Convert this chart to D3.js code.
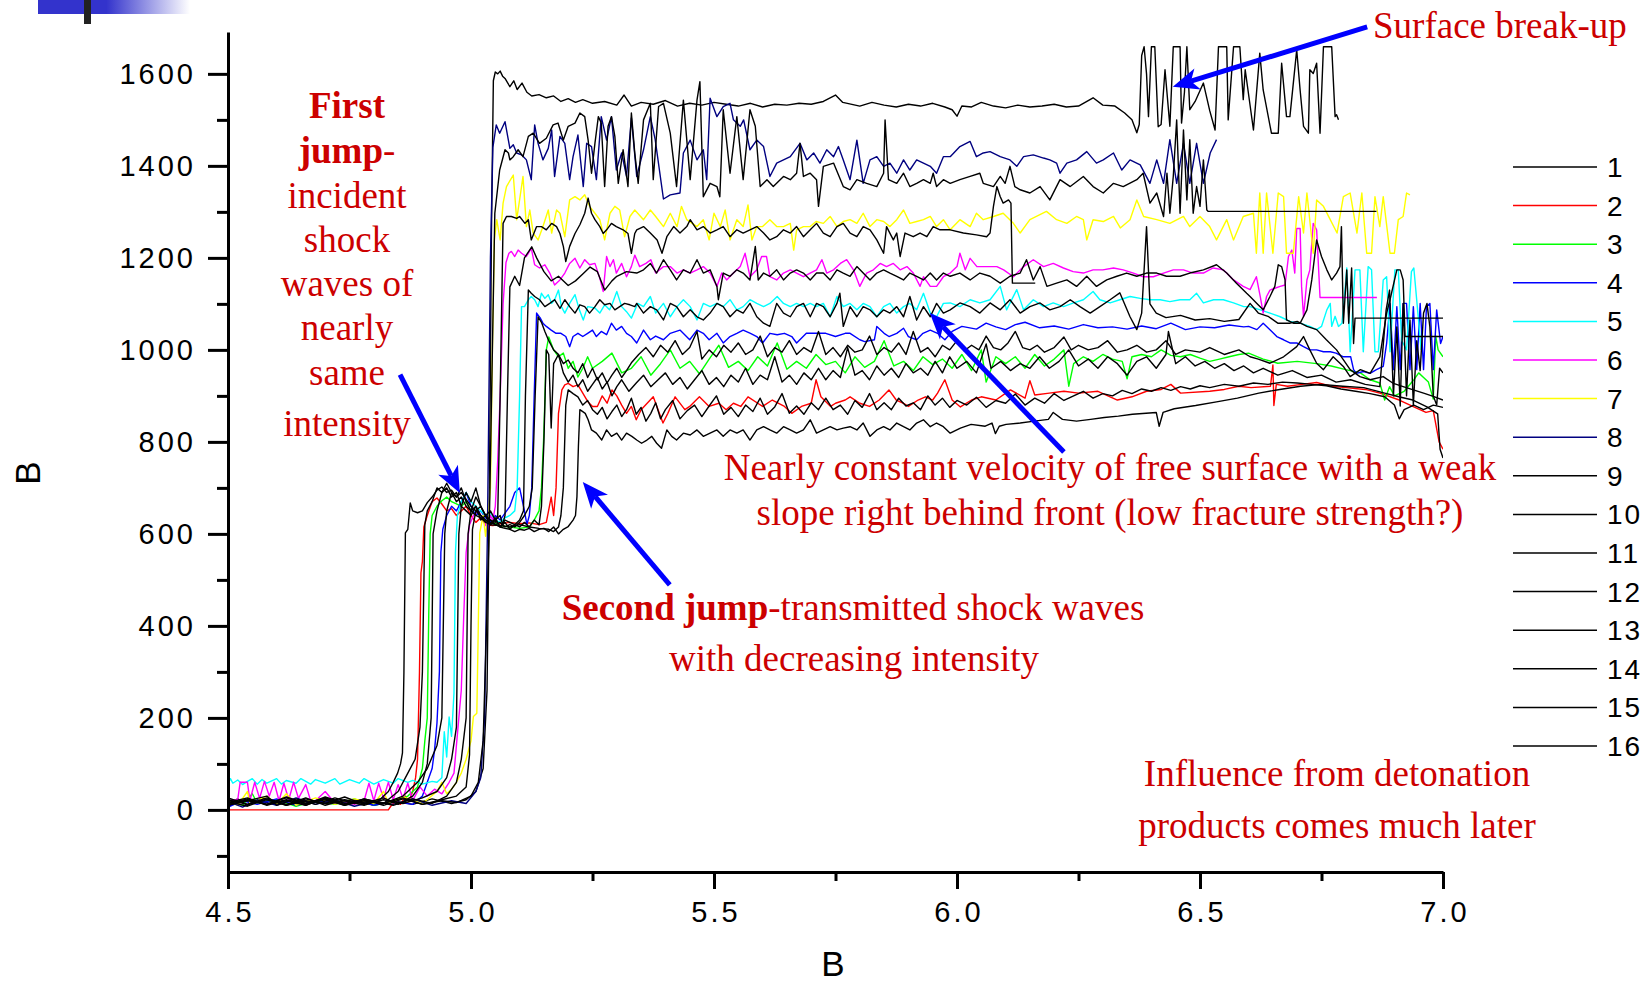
<!DOCTYPE html>
<html>
<head>
<meta charset="utf-8">
<script src="https://cdn.jsdelivr.net/npm/d3@7"></script>
<style>
  html, body { margin: 0; padding: 0; background: #fff; }
  svg { display: block; }
  .tick text { font-family: "Liberation Sans", Arial, sans-serif; }
</style>
</head>
<body>
<div id="chart"></div>
<script>
// ---- data: [x, value] pairs ----
var s1 = [[4.5,14],[4.52,24],[4.54,10],[4.57,26],[4.6,12],[4.63,22],[4.66,10],[4.7,26],[4.73,14],[4.76,22],[4.8,10],[4.84,20],[4.88,12],[4.92,24],[4.96,14],[4.99,22],[5.01,40],[5.025,90],[5.033,260],[5.038,700],[5.042,1250],[5.046,1585],[5.05,1604],[5.055,1600],[5.06,1606],[5.065,1595],[5.07,1590],[5.08,1572],[5.088,1585],[5.095,1566],[5.105,1580],[5.115,1560],[5.125,1552],[5.14,1555],[5.155,1548],[5.17,1552],[5.185,1540],[5.2,1546],[5.215,1538],[5.23,1544],[5.25,1536],[5.275,1540],[5.3,1532],[5.315,1554],[5.33,1530],[5.35,1538],[5.375,1534],[5.4,1542],[5.425,1530],[5.45,1536],[5.475,1532],[5.5,1538],[5.525,1534],[5.55,1530],[5.575,1536],[5.6,1528],[5.625,1534],[5.65,1532],[5.675,1536],[5.7,1534],[5.725,1540],[5.75,1554],[5.765,1538],[5.8,1530],[5.825,1538],[5.85,1532],[5.875,1528],[5.9,1534],[5.925,1530],[5.95,1536],[5.975,1528],[5.99,1522],[6.0,1508],[6.01,1530],[6.03,1528],[6.05,1538],[6.075,1530],[6.1,1526],[6.125,1532],[6.15,1528],[6.175,1530],[6.2,1534],[6.225,1528],[6.25,1530],[6.28,1548],[6.3,1532],[6.325,1530],[6.345,1515],[6.36,1500],[6.37,1472],[6.375,1490],[6.38,1640],[6.385,1659],[6.39,1600],[6.394,1507],[6.4,1659],[6.407,1659],[6.414,1485],[6.42,1490],[6.428,1609],[6.438,1486],[6.445,1659],[6.459,1659],[6.462,1493],[6.468,1560],[6.473,1659],[6.479,1522],[6.49,1540],[6.507,1580],[6.52,1520],[6.531,1478],[6.538,1659],[6.555,1659],[6.558,1500],[6.569,1659],[6.582,1659],[6.589,1544],[6.593,1609],[6.61,1478],[6.623,1645],[6.63,1565],[6.647,1471],[6.661,1471],[6.668,1623],[6.678,1507],[6.685,1507],[6.699,1652],[6.706,1565],[6.713,1486],[6.723,1471],[6.726,1609],[6.733,1601],[6.74,1623],[6.747,1471],[6.754,1659],[6.771,1659],[6.778,1507],[6.781,1511],[6.785,1500]];

var s2 = [[4.5,0],[4.83,0],[4.835,8],[4.845,20],[4.855,12],[4.865,30],[4.872,18],[4.88,40],[4.886,70],[4.89,110],[4.894,300],[4.897,515],[4.9,540],[4.903,615],[4.91,640],[4.92,670],[4.93,678],[4.94,665],[4.95,650],[4.96,655],[4.97,640],[4.98,650],[4.99,660],[5.0,640],[5.01,625],[5.02,635],[5.03,620],[5.045,618],[5.06,622],[5.08,625],[5.1,622],[5.12,624],[5.14,620],[5.155,625],[5.165,680],[5.17,640],[5.175,700],[5.18,862],[5.187,913],[5.193,924],[5.2,927],[5.21,920],[5.22,924],[5.23,906],[5.24,888],[5.25,877],[5.26,877],[5.27,900],[5.28,884],[5.29,913],[5.3,900],[5.31,880],[5.32,862],[5.33,877],[5.34,848],[5.35,870],[5.375,898],[5.395,841],[5.405,862],[5.42,898],[5.44,870],[5.45,877],[5.47,898],[5.49,877],[5.51,884],[5.525,870],[5.54,884],[5.555,877],[5.57,898],[5.59,884],[5.6,877],[5.62,891],[5.645,877],[5.66,862],[5.68,877],[5.7,884],[5.71,935],[5.72,898],[5.74,877],[5.75,884],[5.77,891],[5.78,898],[5.8,884],[5.82,877],[5.84,891],[5.86,913],[5.875,891],[5.89,884],[5.9,877],[5.92,891],[5.935,898],[5.95,891],[5.96,906],[5.975,935],[5.99,891],[6.007,876],[6.03,891],[6.05,898],[6.08,891],[6.11,913],[6.14,895],[6.15,933],[6.16,902],[6.19,906],[6.22,910],[6.25,906],[6.29,910],[6.33,891],[6.36,898],[6.39,910],[6.42,914],[6.44,925],[6.46,906],[6.52,910],[6.55,914],[6.58,921],[6.605,918],[6.645,921],[6.65,967],[6.652,879],[6.657,925],[6.68,921],[6.71,925],[6.74,929],[6.77,921],[6.8,918],[6.84,914],[6.87,906],[6.91,891],[6.94,876],[6.965,864],[6.98,868],[6.992,800],[7.0,784]];

var s3 = [[4.5,20],[4.53,10],[4.55,35],[4.56,15],[4.6,22],[4.64,8],[4.68,20],[4.72,12],[4.76,24],[4.8,10],[4.84,18],[4.87,30],[4.89,50],[4.9,90],[4.905,150],[4.91,200],[4.913,420],[4.916,600],[4.92,640],[4.93,660],[4.94,672],[4.95,680],[4.96,670],[4.97,665],[4.98,660],[4.99,670],[5.0,650],[5.01,645],[5.02,640],[5.03,630],[5.04,625],[5.05,622],[5.06,618],[5.08,615],[5.1,612],[5.12,615],[5.13,630],[5.14,650],[5.145,700],[5.15,820],[5.155,1000],[5.16,1028],[5.17,1000],[5.18,985],[5.19,993],[5.2,960],[5.21,975],[5.22,941],[5.23,960],[5.24,985],[5.25,960],[5.27,975],[5.29,993],[5.31,950],[5.33,960],[5.35,985],[5.37,945],[5.39,970],[5.41,1000],[5.43,960],[5.45,975],[5.47,948],[5.49,980],[5.51,1010],[5.53,962],[5.55,975],[5.57,955],[5.59,985],[5.61,965],[5.63,1015],[5.65,958],[5.67,975],[5.69,960],[5.71,990],[5.73,968],[5.75,975],[5.77,950],[5.79,985],[5.81,962],[5.83,975],[5.85,1020],[5.87,965],[5.89,975],[5.91,955],[5.93,985],[5.95,968],[5.97,980],[5.99,960],[6.01,990],[6.03,955],[6.05,1000],[6.06,930],[6.08,985],[6.1,970],[6.12,985],[6.14,960],[6.16,990],[6.18,965],[6.2,980],[6.22,1000],[6.23,921],[6.24,970],[6.26,985],[6.28,975],[6.3,990],[6.32,980],[6.34,975],[6.35,937],[6.36,985],[6.38,990],[6.4,985],[6.42,1000],[6.44,988],[6.46,985],[6.48,990],[6.5,982],[6.52,975],[6.54,980],[6.56,985],[6.58,990],[6.6,993],[6.63,980],[6.66,971],[6.7,975],[6.74,970],[6.77,965],[6.8,957],[6.83,950],[6.85,935],[6.87,928],[6.88,891],[6.89,920],[6.9,900],[6.92,910],[6.94,935],[6.95,950],[6.96,940],[6.97,930],[6.98,893],[6.985,1030],[6.99,1000],[7.0,985]];

var s4 = [[4.5,25],[4.505,8],[4.53,20],[4.56,12],[4.6,24],[4.64,10],[4.68,20],[4.72,14],[4.76,22],[4.8,10],[4.84,18],[4.88,12],[4.9,30],[4.91,60],[4.92,90],[4.925,130],[4.93,189],[4.935,300],[4.938,560],[4.942,610],[4.95,640],[4.96,660],[4.97,650],[4.98,670],[4.99,690],[5.0,660],[5.01,640],[5.02,650],[5.03,635],[5.04,625],[5.05,640],[5.06,630],[5.07,645],[5.08,660],[5.09,690],[5.1,700],[5.11,650],[5.115,620],[5.12,640],[5.125,700],[5.13,900],[5.135,1080],[5.142,1070],[5.148,1058],[5.155,1051],[5.165,1043],[5.175,1036],[5.185,1036],[5.195,1029],[5.203,1007],[5.21,1029],[5.22,1036],[5.23,1029],[5.24,1036],[5.25,1043],[5.258,1029],[5.268,1040],[5.279,1033],[5.289,1058],[5.299,1043],[5.31,1051],[5.32,1036],[5.33,1029],[5.341,1015],[5.355,1043],[5.369,1022],[5.38,1030],[5.396,1022],[5.41,1036],[5.43,1043],[5.45,1022],[5.465,1043],[5.478,1036],[5.49,1022],[5.506,1036],[5.519,1015],[5.533,1029],[5.547,1036],[5.56,1043],[5.575,1036],[5.588,1029],[5.6,1015],[5.615,1036],[5.63,1033],[5.645,1036],[5.66,1029],[5.67,1015],[5.69,1036],[5.71,1036],[5.73,1036],[5.75,1029],[5.77,1036],[5.78,1036],[5.8,1022],[5.81,1018],[5.83,1022],[5.835,1051],[5.85,1036],[5.86,1029],[5.876,1036],[5.89,1047],[5.9,1029],[5.917,1022],[5.93,1036],[5.945,1043],[5.96,1036],[5.975,1022],[5.99,1040],[6.01,1051],[6.04,1045],[6.06,1058],[6.08,1050],[6.1,1044],[6.12,1055],[6.14,1060],[6.17,1048],[6.2,1052],[6.23,1045],[6.26,1055],[6.29,1048],[6.32,1050],[6.35,1045],[6.38,1052],[6.41,1046],[6.44,1058],[6.47,1044],[6.5,1050],[6.53,1048],[6.56,1054],[6.59,1050],[6.6,1051],[6.617,1044],[6.63,1058],[6.644,1044],[6.658,1029],[6.672,1022],[6.685,1015],[6.699,1015],[6.713,1007],[6.726,1000],[6.74,1000],[6.754,996],[6.768,996],[6.78,993],[6.795,985],[6.81,985],[6.816,957],[6.822,949],[6.836,953],[6.85,949],[6.863,957],[6.877,964],[6.884,1014],[6.891,1101],[6.898,957],[6.905,1094],[6.912,957],[6.918,1101],[6.925,1101],[6.932,957],[6.939,1094],[6.946,957],[6.953,1101],[6.96,957],[6.966,1094],[6.973,1101],[6.98,957],[6.987,1087],[6.995,1014],[7.0,1029]];

var s5 = [[4.5,58],[4.505,68],[4.51,58],[4.52,65],[4.53,55],[4.54,62],[4.55,68],[4.56,56],[4.57,66],[4.58,58],[4.6,68],[4.61,56],[4.62,64],[4.64,58],[4.65,68],[4.67,56],[4.68,66],[4.7,58],[4.72,68],[4.73,56],[4.75,66],[4.77,58],[4.78,68],[4.8,56],[4.82,66],[4.84,58],[4.85,68],[4.87,60],[4.88,64],[4.9,56],[4.92,62],[4.93,60],[4.94,70],[4.945,170],[4.95,115],[4.955,202],[4.96,160],[4.965,254],[4.968,560],[4.972,640],[4.98,670],[4.99,690],[5.0,670],[5.01,660],[5.02,650],[5.03,640],[5.04,645],[5.05,630],[5.06,625],[5.07,635],[5.08,640],[5.09,650],[5.095,700],[5.1,900],[5.104,1094],[5.11,1094],[5.118,1109],[5.124,1116],[5.131,1109],[5.138,1094],[5.145,1123],[5.152,1112],[5.159,1120],[5.166,1101],[5.172,1109],[5.18,1130],[5.186,1094],[5.193,1080],[5.203,1101],[5.214,1120],[5.223,1087],[5.231,1065],[5.24,1094],[5.255,1091],[5.265,1080],[5.275,1098],[5.285,1087],[5.29,1098],[5.3,1127],[5.31,1094],[5.32,1083],[5.33,1069],[5.343,1101],[5.355,1094],[5.369,1116],[5.38,1080],[5.396,1101],[5.41,1072],[5.424,1094],[5.437,1109],[5.451,1094],[5.465,1065],[5.478,1101],[5.492,1094],[5.506,1101],[5.519,1094],[5.533,1109],[5.547,1087],[5.56,1094],[5.574,1109],[5.588,1101],[5.602,1094],[5.615,1101],[5.63,1116],[5.643,1101],[5.657,1094],[5.67,1101],[5.684,1094],[5.698,1101],[5.711,1094],[5.725,1101],[5.739,1072],[5.753,1116],[5.766,1094],[5.78,1101],[5.794,1087],[5.807,1101],[5.821,1094],[5.835,1072],[5.849,1094],[5.862,1101],[5.876,1080],[5.89,1094],[5.903,1101],[5.917,1087],[5.931,1123],[5.945,1080],[5.958,1072],[5.972,1101],[5.986,1102],[6.006,1094],[6.027,1109],[6.047,1102],[6.068,1109],[6.089,1138],[6.102,1087],[6.123,1131],[6.137,1087],[6.157,1109],[6.178,1094],[6.198,1102],[6.219,1094],[6.24,1102],[6.26,1109],[6.28,1127],[6.294,1109],[6.315,1102],[6.335,1109],[6.356,1116],[6.377,1112],[6.397,1109],[6.418,1109],[6.438,1105],[6.459,1109],[6.479,1109],[6.493,1123],[6.507,1102],[6.528,1109],[6.548,1109],[6.569,1102],[6.59,1094],[6.603,1094],[6.624,1087],[6.644,1080],[6.665,1072],[6.685,1062],[6.706,1058],[6.726,1051],[6.74,1044],[6.75,1051],[6.761,1087],[6.768,1101],[6.771,1051],[6.778,1073],[6.785,1051],[6.792,1058],[6.799,1138],[6.802,1178],[6.809,996],[6.819,1174],[6.829,1174],[6.836,996],[6.846,1181],[6.853,1174],[6.86,996],[6.867,996],[6.877,1152],[6.884,1159],[6.891,996],[6.901,1174],[6.908,1174],[6.915,1020],[6.925,1000],[6.935,1170],[6.94,1178],[6.95,1060],[6.955,1000]];

var s6 = [[4.5,20],[4.52,22],[4.525,60],[4.54,60],[4.545,20],[4.555,60],[4.565,25],[4.575,62],[4.585,30],[4.595,60],[4.605,20],[4.615,58],[4.625,22],[4.635,60],[4.645,25],[4.66,55],[4.67,20],[4.68,20],[4.7,40],[4.72,15],[4.74,18],[4.76,12],[4.78,20],[4.79,58],[4.8,20],[4.81,58],[4.82,25],[4.83,60],[4.84,22],[4.85,55],[4.86,25],[4.87,58],[4.88,20],[4.895,50],[4.91,30],[4.925,45],[4.94,35],[4.955,60],[4.965,80],[4.975,200],[4.98,260],[4.985,420],[4.99,560],[4.997,620],[5.005,640],[5.015,650],[5.025,630],[5.035,610],[5.04,640],[5.045,630],[5.05,660],[5.055,760],[5.06,900],[5.066,1100],[5.072,1190],[5.078,1210],[5.083,1214],[5.09,1203],[5.097,1217],[5.104,1210],[5.114,1203],[5.118,1210],[5.124,1221],[5.131,1185],[5.141,1178],[5.152,1185],[5.162,1167],[5.172,1141],[5.183,1152],[5.193,1167],[5.203,1188],[5.214,1199],[5.224,1178],[5.234,1196],[5.244,1185],[5.255,1188],[5.265,1156],[5.272,1127],[5.279,1203],[5.286,1181],[5.293,1196],[5.299,1167],[5.31,1188],[5.32,1159],[5.33,1181],[5.337,1206],[5.347,1181],[5.36,1188],[5.37,1196],[5.38,1167],[5.396,1181],[5.41,1181],[5.424,1167],[5.437,1174],[5.451,1167],[5.465,1174],[5.478,1181],[5.492,1167],[5.506,1138],[5.516,1167],[5.526,1152],[5.54,1167],[5.554,1181],[5.564,1210],[5.574,1159],[5.588,1174],[5.598,1203],[5.608,1203],[5.615,1159],[5.629,1152],[5.643,1167],[5.657,1174],[5.67,1167],[5.684,1159],[5.698,1167],[5.711,1174],[5.722,1196],[5.732,1167],[5.746,1174],[5.76,1188],[5.773,1196],[5.787,1174],[5.8,1138],[5.814,1167],[5.828,1174],[5.842,1188],[5.855,1181],[5.869,1188],[5.883,1174],[5.897,1181],[5.91,1167],[5.924,1138],[5.931,1159],[5.945,1138],[5.958,1138],[5.972,1159],[5.986,1167],[6.0,1181],[6.006,1210],[6.017,1174],[6.027,1199],[6.041,1181],[6.06,1181],[6.082,1181],[6.096,1174],[6.116,1159],[6.137,1181],[6.157,1196],[6.178,1181],[6.198,1188],[6.219,1178],[6.239,1170],[6.26,1167],[6.28,1174],[6.3,1174],[6.322,1178],[6.342,1174],[6.363,1167],[6.383,1159],[6.404,1159],[6.425,1167],[6.445,1174],[6.466,1174],[6.486,1167],[6.507,1167],[6.527,1178],[6.548,1174],[6.569,1152],[6.589,1138],[6.603,1131],[6.616,1159],[6.624,1116],[6.63,1080],[6.637,1116],[6.644,1130],[6.654,1134],[6.665,1138],[6.675,1141],[6.682,1203],[6.689,1217],[6.695,1167],[6.699,1264],[6.706,1264],[6.709,1138],[6.713,1072],[6.72,1152],[6.726,1174],[6.733,1275],[6.74,1261],[6.747,1114],[6.864,1114]];

var s7 = [[4.5,20],[4.52,10],[4.54,40],[4.545,15],[4.58,30],[4.6,12],[4.62,35],[4.64,10],[4.68,26],[4.72,12],[4.76,24],[4.8,14],[4.82,40],[4.83,15],[4.86,28],[4.9,14],[4.93,40],[4.94,60],[4.95,35],[4.96,45],[4.97,60],[4.98,80],[4.99,110],[5.0,150],[5.005,203],[5.012,210],[5.015,400],[5.018,602],[5.025,640],[5.03,595],[5.035,640],[5.04,700],[5.044,1000],[5.048,1239],[5.053,1283],[5.06,1239],[5.066,1319],[5.073,1355],[5.087,1380],[5.094,1283],[5.1,1326],[5.107,1377],[5.114,1268],[5.121,1304],[5.128,1254],[5.138,1239],[5.148,1268],[5.159,1304],[5.166,1254],[5.176,1304],[5.183,1297],[5.193,1246],[5.203,1326],[5.214,1333],[5.224,1326],[5.234,1337],[5.244,1312],[5.255,1297],[5.265,1283],[5.275,1239],[5.286,1297],[5.296,1312],[5.306,1304],[5.316,1246],[5.327,1290],[5.337,1304],[5.355,1283],[5.369,1304],[5.38,1290],[5.396,1268],[5.41,1297],[5.424,1268],[5.433,1312],[5.444,1283],[5.465,1268],[5.478,1283],[5.49,1239],[5.5,1297],[5.513,1268],[5.523,1304],[5.533,1239],[5.547,1283],[5.56,1268],[5.57,1315],[5.578,1239],[5.588,1268],[5.6,1268],[5.615,1283],[5.629,1268],[5.643,1268],[5.657,1275],[5.664,1217],[5.67,1261],[5.684,1268],[5.698,1268],[5.71,1279],[5.725,1275],[5.739,1290],[5.753,1268],[5.766,1279],[5.78,1283],[5.794,1275],[5.807,1297],[5.821,1268],[5.835,1283],[5.849,1279],[5.862,1268],[5.876,1283],[5.89,1304],[5.903,1275],[5.917,1279],[5.931,1283],[5.945,1290],[5.958,1268],[5.972,1283],[5.986,1261],[6.006,1283],[6.027,1268],[6.04,1297],[6.054,1283],[6.075,1290],[6.095,1297],[6.116,1275],[6.13,1254],[6.15,1283],[6.184,1301],[6.205,1283],[6.226,1275],[6.246,1290],[6.26,1283],[6.267,1239],[6.28,1283],[6.301,1279],[6.322,1290],[6.336,1265],[6.356,1283],[6.37,1326],[6.384,1290],[6.411,1283],[6.438,1275],[6.466,1290],[6.479,1268],[6.5,1290],[6.52,1268],[6.534,1239],[6.555,1283],[6.569,1239],[6.589,1290],[6.61,1297],[6.616,1210],[6.623,1341],[6.63,1210],[6.637,1341],[6.65,1210],[6.661,1341],[6.672,1333],[6.678,1210],[6.692,1210],[6.703,1333],[6.713,1254],[6.72,1341],[6.733,1210],[6.74,1326],[6.754,1312],[6.768,1283],[6.782,1254],[6.795,1333],[6.809,1341],[6.823,1254],[6.833,1341],[6.843,1210],[6.853,1210],[6.86,1333],[6.87,1268],[6.877,1333],[6.891,1210],[6.9,1210],[6.908,1283],[6.918,1290],[6.925,1341],[6.932,1337]];

var s8 = [[4.5,18],[4.53,6],[4.56,22],[4.6,10],[4.64,26],[4.68,12],[4.72,22],[4.76,8],[4.8,18],[4.84,12],[4.88,24],[4.92,10],[4.96,20],[4.99,14],[5.01,40],[5.02,70],[5.028,200],[5.034,620],[5.04,1200],[5.045,1440],[5.052,1489],[5.059,1471],[5.07,1496],[5.08,1438],[5.087,1446],[5.094,1428],[5.104,1424],[5.114,1413],[5.124,1370],[5.131,1489],[5.138,1449],[5.148,1413],[5.159,1438],[5.166,1478],[5.172,1377],[5.183,1464],[5.193,1449],[5.203,1370],[5.21,1420],[5.22,1467],[5.231,1355],[5.238,1449],[5.248,1442],[5.258,1370],[5.268,1507],[5.279,1456],[5.289,1507],[5.299,1391],[5.31,1428],[5.32,1377],[5.33,1504],[5.341,1377],[5.355,1435],[5.369,1507],[5.379,1457],[5.396,1328],[5.41,1337],[5.43,1341],[5.437,1428],[5.451,1456],[5.465,1413],[5.478,1435],[5.485,1370],[5.492,1547],[5.506,1507],[5.519,1529],[5.533,1536],[5.54,1500],[5.554,1486],[5.561,1500],[5.574,1435],[5.588,1456],[5.602,1442],[5.615,1377],[5.629,1406],[5.643,1413],[5.657,1420],[5.677,1449],[5.691,1413],[5.705,1428],[5.718,1406],[5.732,1435],[5.746,1420],[5.756,1442],[5.766,1413],[5.78,1370],[5.794,1456],[5.807,1362],[5.821,1413],[5.835,1420],[5.849,1399],[5.862,1406],[5.876,1384],[5.89,1413],[5.903,1391],[5.917,1413],[5.931,1406],[5.945,1399],[5.958,1384],[5.972,1420],[5.986,1420],[6.006,1442],[6.027,1453],[6.04,1420],[6.054,1428],[6.068,1431],[6.089,1420],[6.109,1413],[6.123,1399],[6.137,1420],[6.157,1424],[6.178,1417],[6.191,1413],[6.205,1406],[6.212,1384],[6.226,1406],[6.246,1413],[6.267,1431],[6.287,1406],[6.301,1413],[6.322,1428],[6.339,1391],[6.356,1413],[6.377,1402],[6.397,1362],[6.411,1413],[6.425,1362],[6.438,1457],[6.452,1362],[6.466,1449],[6.479,1362],[6.493,1449],[6.507,1362],[6.521,1428],[6.534,1457]];

var s9 = [[4.5,10],[4.54,22],[4.58,12],[4.62,28],[4.66,14],[4.7,24],[4.74,10],[4.78,20],[4.82,14],[4.86,26],[4.9,12],[4.94,20],[4.97,16],[5.0,30],[5.015,60],[5.025,150],[5.032,400],[5.038,640],[5.044,1000],[5.049,1297],[5.059,1391],[5.07,1435],[5.077,1428],[5.08,1413],[5.087,1420],[5.097,1435],[5.107,1420],[5.118,1464],[5.128,1471],[5.141,1449],[5.155,1460],[5.169,1489],[5.179,1493],[5.19,1456],[5.2,1486],[5.214,1493],[5.224,1515],[5.234,1507],[5.241,1456],[5.248,1384],[5.255,1449],[5.262,1507],[5.268,1493],[5.275,1355],[5.282,1486],[5.289,1507],[5.296,1464],[5.303,1362],[5.313,1435],[5.323,1355],[5.33,1515],[5.337,1428],[5.344,1362],[5.355,1500],[5.369,1536],[5.375,1370],[5.386,1529],[5.396,1536],[5.41,1471],[5.423,1355],[5.437,1543],[5.451,1370],[5.465,1543],[5.471,1583],[5.478,1333],[5.492,1362],[5.506,1355],[5.512,1333],[5.519,1522],[5.533,1384],[5.547,1507],[5.56,1370],[5.574,1522],[5.585,1486],[5.595,1355],[5.609,1370],[5.622,1355],[5.643,1377],[5.657,1370],[5.67,1384],[5.677,1449],[5.684,1377],[5.698,1384],[5.711,1370],[5.715,1312],[5.725,1399],[5.746,1406],[5.766,1355],[5.78,1348],[5.794,1370],[5.814,1362],[5.835,1355],[5.849,1384],[5.852,1500],[5.859,1370],[5.876,1362],[5.89,1384],[5.903,1355],[5.917,1362],[5.931,1370],[5.945,1362],[5.951,1384],[5.958,1355],[5.972,1370],[5.986,1362],[6.006,1370],[6.027,1377],[6.047,1384],[6.054,1362],[6.075,1355],[6.089,1377],[6.099,1362],[6.109,1399],[6.119,1355],[6.13,1348],[6.15,1341],[6.171,1355],[6.191,1326],[6.212,1370],[6.233,1355],[6.26,1377],[6.28,1355],[6.301,1341],[6.322,1362],[6.342,1355],[6.37,1370],[6.383,1384],[6.397,1319],[6.411,1341],[6.425,1290],[6.432,1384],[6.438,1297],[6.445,1377],[6.452,1500],[6.459,1297],[6.466,1478],[6.473,1326],[6.479,1457],[6.486,1297],[6.493,1355],[6.5,1312],[6.507,1413],[6.514,1304],[6.517,1301],[6.863,1301]];

var s10 = [[4.5,16],[4.54,26],[4.58,10],[4.62,22],[4.66,12],[4.7,28],[4.74,14],[4.78,22],[4.82,10],[4.86,24],[4.9,12],[4.94,22],[4.97,30],[4.99,50],[4.997,120],[5.0,400],[5.003,610],[5.01,650],[5.02,660],[5.03,640],[5.04,630],[5.05,625],[5.055,640],[5.06,900],[5.066,1275],[5.073,1290],[5.083,1290],[5.094,1286],[5.1,1290],[5.111,1275],[5.118,1283],[5.124,1239],[5.135,1268],[5.145,1268],[5.155,1261],[5.166,1275],[5.176,1268],[5.183,1253],[5.19,1225],[5.195,1192],[5.203,1225],[5.214,1253],[5.224,1272],[5.234,1297],[5.241,1330],[5.248,1297],[5.255,1283],[5.265,1268],[5.272,1253],[5.279,1261],[5.289,1275],[5.299,1268],[5.313,1261],[5.323,1253],[5.33,1210],[5.337,1253],[5.341,1261],[5.355,1268],[5.369,1254],[5.383,1239],[5.393,1210],[5.403,1246],[5.417,1268],[5.43,1254],[5.444,1268],[5.451,1283],[5.465,1261],[5.478,1268],[5.492,1254],[5.506,1261],[5.519,1268],[5.533,1246],[5.547,1261],[5.56,1254],[5.574,1261],[5.588,1268],[5.602,1254],[5.615,1239],[5.629,1246],[5.643,1261],[5.657,1254],[5.67,1268],[5.684,1246],[5.698,1261],[5.711,1275],[5.725,1254],[5.739,1246],[5.753,1268],[5.766,1275],[5.78,1254],[5.794,1246],[5.807,1268],[5.821,1261],[5.835,1239],[5.849,1210],[5.855,1268],[5.869,1239],[5.876,1254],[5.883,1203],[5.893,1254],[5.91,1246],[5.924,1254],[5.938,1246],[5.951,1268],[5.965,1261],[5.986,1261],[6.013,1254],[6.04,1250],[6.061,1246],[6.068,1254],[6.075,1312],[6.082,1355],[6.089,1333],[6.095,1319],[6.106,1326],[6.111,1319],[6.114,1145],[6.161,1145]];

var s11 = [[4.5,12],[4.54,20],[4.58,30],[4.6,10],[4.64,24],[4.68,12],[4.72,26],[4.76,14],[4.8,20],[4.84,10],[4.88,24],[4.92,14],[4.95,30],[4.97,60],[4.98,110],[4.99,200],[4.994,600],[5.0,650],[5.01,680],[5.02,660],[5.03,640],[5.04,650],[5.05,630],[5.06,640],[5.065,620],[5.07,640],[5.075,900],[5.08,1137],[5.09,1160],[5.1,1140],[5.11,1200],[5.125,1224],[5.135,1200],[5.15,1170],[5.165,1150],[5.18,1160],[5.2,1140],[5.215,1150],[5.23,1165],[5.245,1180],[5.26,1170],[5.275,1130],[5.29,1150],[5.3,1160],[5.32,1170],[5.341,1167],[5.355,1174],[5.369,1188],[5.382,1167],[5.396,1196],[5.41,1174],[5.423,1152],[5.437,1174],[5.451,1167],[5.465,1196],[5.478,1167],[5.492,1174],[5.506,1138],[5.509,1109],[5.519,1167],[5.533,1160],[5.547,1174],[5.56,1167],[5.574,1152],[5.585,1225],[5.591,1152],[5.602,1167],[5.615,1160],[5.629,1174],[5.643,1152],[5.657,1167],[5.67,1174],[5.684,1167],[5.698,1152],[5.711,1167],[5.725,1167],[5.739,1152],[5.753,1174],[5.766,1167],[5.78,1160],[5.794,1181],[5.807,1167],[5.821,1152],[5.835,1167],[5.849,1174],[5.862,1167],[5.876,1160],[5.89,1152],[5.903,1167],[5.917,1160],[5.931,1152],[5.945,1167],[5.958,1152],[5.972,1167],[5.986,1160],[6.006,1167],[6.027,1152],[6.047,1167],[6.068,1160],[6.089,1145],[6.109,1160],[6.13,1167],[6.143,1196],[6.157,1152],[6.171,1181],[6.185,1138],[6.205,1145],[6.226,1152],[6.246,1138],[6.267,1160],[6.287,1138],[6.308,1152],[6.329,1160],[6.349,1167],[6.37,1160],[6.39,1167],[6.411,1167],[6.431,1160],[6.459,1160],[6.479,1167],[6.507,1174],[6.534,1185],[6.555,1167],[6.575,1145],[6.596,1123],[6.603,1116],[6.617,1101],[6.63,1087],[6.644,1116],[6.654,1138],[6.661,1185],[6.668,1181],[6.675,1152],[6.678,1065],[6.692,1058],[6.706,1058],[6.72,1087],[6.73,1152],[6.74,1239],[6.75,1203],[6.761,1174],[6.771,1152],[6.781,1167],[6.788,1181],[6.791,1268],[6.795,1058],[6.802,1174],[6.806,1058],[6.812,1178],[6.816,1014],[6.819,1069],[7.0,1069]];

var s12 = [[4.5,22],[4.54,12],[4.58,26],[4.62,10],[4.66,20],[4.7,14],[4.74,28],[4.78,12],[4.82,22],[4.86,14],[4.9,26],[4.93,40],[4.95,70],[4.96,110],[4.97,180],[4.975,600],[4.98,660],[4.99,690],[5.0,670],[5.01,700],[5.02,660],[5.03,640],[5.04,620],[5.05,630],[5.06,615],[5.07,630],[5.08,625],[5.09,620],[5.1,630],[5.108,650],[5.112,900],[5.118,1130],[5.124,1123],[5.131,1116],[5.141,1109],[5.152,1094],[5.162,1101],[5.172,1109],[5.183,1090],[5.193,1109],[5.203,1094],[5.214,1080],[5.224,1098],[5.234,1094],[5.244,1080],[5.255,1094],[5.265,1109],[5.275,1098],[5.286,1101],[5.296,1087],[5.306,1094],[5.316,1101],[5.327,1098],[5.337,1094],[5.341,1101],[5.355,1080],[5.369,1094],[5.382,1087],[5.396,1065],[5.41,1101],[5.423,1094],[5.437,1072],[5.451,1087],[5.465,1072],[5.478,1065],[5.492,1080],[5.506,1101],[5.519,1094],[5.533,1072],[5.547,1087],[5.56,1080],[5.574,1101],[5.588,1072],[5.602,1058],[5.615,1051],[5.629,1101],[5.643,1080],[5.657,1072],[5.67,1094],[5.684,1101],[5.698,1072],[5.711,1101],[5.725,1094],[5.739,1072],[5.753,1101],[5.759,1123],[5.766,1051],[5.78,1094],[5.794,1072],[5.807,1094],[5.821,1087],[5.835,1072],[5.849,1087],[5.862,1080],[5.876,1094],[5.89,1072],[5.903,1116],[5.917,1065],[5.931,1094],[5.945,1072],[5.958,1101],[5.972,1080],[5.986,1087],[6.006,1102],[6.027,1094],[6.047,1080],[6.068,1102],[6.089,1087],[6.109,1109],[6.13,1080],[6.15,1094],[6.171,1102],[6.191,1087],[6.212,1094],[6.233,1109],[6.253,1094],[6.274,1080],[6.294,1094],[6.315,1109],[6.335,1124],[6.356,1072],[6.37,1044],[6.38,1080],[6.39,1268],[6.397,1100],[6.41,1080],[6.43,1070],[6.46,1075],[6.49,1065],[6.52,1068],[6.55,1062],[6.58,1066],[6.603,1101],[6.62,1080],[6.64,1073],[6.66,1058],[6.684,1058],[6.7,1062],[6.72,1051],[6.74,1044],[6.76,1022],[6.781,1000],[6.809,957],[6.829,942],[6.85,935],[6.877,942],[6.898,927],[6.918,920],[6.939,913],[6.96,906],[6.98,899],[7.0,891]];

var s13 = [[4.5,14],[4.54,24],[4.58,12],[4.62,20],[4.66,10],[4.7,26],[4.74,12],[4.78,24],[4.82,14],[4.86,30],[4.89,60],[4.91,90],[4.93,140],[4.94,200],[4.946,600],[4.95,650],[4.96,690],[4.97,680],[4.98,700],[4.99,670],[5.0,650],[5.01,660],[5.02,640],[5.03,625],[5.04,630],[5.05,620],[5.06,625],[5.07,615],[5.08,620],[5.09,615],[5.1,625],[5.11,640],[5.12,660],[5.126,700],[5.132,900],[5.138,1072],[5.145,1060],[5.152,1040],[5.16,1020],[5.17,1000],[5.18,990],[5.19,970],[5.2,978],[5.21,960],[5.22,950],[5.23,970],[5.24,940],[5.25,960],[5.26,935],[5.27,950],[5.28,928],[5.29,945],[5.3,960],[5.31,940],[5.32,955],[5.33,972],[5.345,990],[5.36,1005],[5.375,985],[5.39,1010],[5.405,995],[5.42,1020],[5.435,990],[5.45,1005],[5.465,1040],[5.475,980],[5.49,1000],[5.505,985],[5.52,1010],[5.535,995],[5.55,1015],[5.565,990],[5.58,1000],[5.595,1030],[5.61,985],[5.625,1005],[5.64,995],[5.655,1020],[5.67,990],[5.685,1005],[5.7,995],[5.715,1040],[5.73,990],[5.745,1005],[5.76,985],[5.775,1010],[5.79,995],[5.805,1000],[5.82,1030],[5.835,990],[5.85,1005],[5.865,995],[5.88,1015],[5.895,990],[5.91,1040],[5.925,995],[5.94,1005],[5.955,985],[5.97,1010],[5.985,1000],[6.0,1020],[6.015,998],[6.03,1010],[6.045,1000],[6.06,1030],[6.075,1005],[6.09,1000],[6.105,1015],[6.12,1040],[6.135,1005],[6.15,1000],[6.165,1010],[6.18,995],[6.2,1005],[6.22,1028],[6.235,1000],[6.25,1010],[6.27,1000],[6.29,1005],[6.31,1020],[6.33,995],[6.35,1000],[6.37,1010],[6.39,995],[6.41,1000],[6.43,1020],[6.45,990],[6.47,1000],[6.5,995],[6.52,1005],[6.55,990],[6.58,1000],[6.603,985],[6.62,980],[6.644,971],[6.672,985],[6.699,1007],[6.713,1029],[6.726,1000],[6.74,971],[6.754,957],[6.774,985],[6.795,964],[6.809,942],[6.83,957],[6.85,949],[6.87,985],[6.884,1080],[6.891,1109],[6.905,1174],[6.912,1174],[6.918,1152],[6.922,1029],[7.0,1029]];

var s14 = [[4.5,18],[4.54,8],[4.58,24],[4.62,12],[4.66,26],[4.7,10],[4.74,22],[4.78,14],[4.82,26],[4.85,12],[4.88,30],[4.9,60],[4.91,100],[4.918,200],[4.922,600],[4.93,650],[4.94,690],[4.95,700],[4.96,680],[4.97,690],[4.98,660],[4.99,650],[5.0,640],[5.01,660],[5.02,630],[5.03,640],[5.04,620],[5.05,635],[5.06,615],[5.07,625],[5.08,610],[5.09,620],[5.1,615],[5.11,625],[5.12,615],[5.13,630],[5.14,620],[5.145,660],[5.15,800],[5.155,1000],[5.16,990],[5.165,830],[5.17,970],[5.18,990],[5.19,950],[5.2,930],[5.21,945],[5.22,920],[5.23,935],[5.24,910],[5.25,925],[5.26,940],[5.27,915],[5.28,930],[5.29,900],[5.3,920],[5.31,935],[5.325,910],[5.34,928],[5.355,945],[5.37,920],[5.385,935],[5.4,950],[5.415,925],[5.43,940],[5.445,915],[5.46,935],[5.475,955],[5.49,925],[5.505,940],[5.52,920],[5.535,945],[5.55,930],[5.565,960],[5.58,925],[5.595,945],[5.61,935],[5.625,985],[5.64,930],[5.655,945],[5.67,925],[5.685,950],[5.7,935],[5.715,960],[5.73,935],[5.745,955],[5.76,940],[5.775,1005],[5.79,945],[5.805,955],[5.82,935],[5.835,965],[5.85,945],[5.865,960],[5.88,940],[5.895,970],[5.91,950],[5.925,960],[5.94,945],[5.955,975],[5.97,950],[5.985,985],[6.0,960],[6.02,975],[6.04,950],[6.06,1013],[6.07,960],[6.09,975],[6.11,955],[6.13,970],[6.15,960],[6.17,985],[6.19,960],[6.21,975],[6.23,1000],[6.25,965],[6.27,980],[6.29,960],[6.31,985],[6.33,970],[6.35,945],[6.37,975],[6.39,985],[6.41,960],[6.43,990],[6.435,1040],[6.45,970],[6.47,985],[6.49,965],[6.51,975],[6.53,960],[6.55,970],[6.57,955],[6.59,965],[6.61,950],[6.63,960],[6.66,945],[6.69,955],[6.72,940],[6.75,945],[6.78,930],[6.81,935],[6.84,925],[6.87,920],[6.883,1087],[6.89,1130],[6.898,900],[6.905,1050],[6.912,878],[6.918,1101],[6.925,900],[6.932,1065],[6.939,880],[6.946,1020],[6.953,955],[6.96,1080],[6.967,1101],[6.973,1050],[6.98,900],[6.987,880],[6.993,960],[7.0,950]];

var s15 = [[4.5,10],[4.54,20],[4.58,12],[4.62,26],[4.66,14],[4.7,22],[4.74,10],[4.78,24],[4.82,14],[4.85,40],[4.87,80],[4.885,110],[4.895,180],[4.9,300],[4.905,620],[4.91,650],[4.92,670],[4.93,700],[4.94,690],[4.95,710],[4.96,690],[4.97,670],[4.98,680],[4.99,660],[5.0,650],[5.01,640],[5.02,635],[5.03,625],[5.04,620],[5.06,618],[5.08,615],[5.1,620],[5.12,615],[5.14,612],[5.16,610],[5.17,605],[5.18,615],[5.185,640],[5.19,700],[5.195,880],[5.2,913],[5.21,905],[5.22,898],[5.23,880],[5.24,890],[5.25,870],[5.26,860],[5.27,875],[5.28,850],[5.29,866],[5.3,880],[5.31,855],[5.32,870],[5.33,895],[5.34,860],[5.35,875],[5.36,845],[5.37,862],[5.38,885],[5.39,850],[5.4,870],[5.415,890],[5.43,850],[5.445,868],[5.46,880],[5.475,855],[5.49,878],[5.505,900],[5.52,860],[5.535,875],[5.55,855],[5.565,880],[5.58,866],[5.595,895],[5.61,860],[5.625,876],[5.64,905],[5.655,862],[5.67,878],[5.685,860],[5.7,885],[5.715,870],[5.73,895],[5.745,870],[5.76,880],[5.775,860],[5.79,890],[5.805,875],[5.82,905],[5.835,870],[5.85,885],[5.865,870],[5.88,895],[5.895,878],[5.91,885],[5.925,870],[5.94,900],[5.955,880],[5.97,895],[5.985,875],[6.0,890],[6.02,880],[6.04,897],[6.06,875],[6.08,890],[6.1,884],[6.12,904],[6.14,880],[6.16,895],[6.18,884],[6.2,905],[6.22,890],[6.24,900],[6.26,910],[6.28,895],[6.3,905],[6.32,900],[6.34,912],[6.36,905],[6.38,915],[6.4,910],[6.42,918],[6.44,912],[6.46,920],[6.48,915],[6.5,922],[6.52,918],[6.55,925],[6.58,921],[6.61,928],[6.64,925],[6.67,930],[6.7,928],[6.73,925],[6.76,922],[6.79,915],[6.82,910],[6.85,905],[6.88,898],[6.9,880],[6.91,850],[6.92,870],[6.94,880],[6.96,870],[6.98,880],[7.0,875]];

var s16 = [[4.5,26],[4.54,12],[4.58,22],[4.62,10],[4.66,24],[4.7,14],[4.74,20],[4.78,10],[4.81,20],[4.83,40],[4.84,60],[4.849,80],[4.855,100],[4.859,124],[4.862,300],[4.865,602],[4.87,610],[4.875,667],[4.88,650],[4.89,646],[4.9,650],[4.91,668],[4.92,680],[4.93,695],[4.94,702],[4.95,690],[4.96,695],[4.97,680],[4.98,690],[4.99,675],[5.0,660],[5.01,650],[5.02,640],[5.03,630],[5.04,625],[5.05,620],[5.06,615],[5.07,612],[5.08,610],[5.09,605],[5.1,610],[5.11,608],[5.12,612],[5.13,605],[5.14,610],[5.15,612],[5.16,605],[5.17,615],[5.18,600],[5.19,610],[5.2,616],[5.21,630],[5.215,640],[5.218,681],[5.221,790],[5.224,870],[5.235,862],[5.241,848],[5.248,826],[5.258,819],[5.269,804],[5.279,826],[5.289,812],[5.3,819],[5.31,804],[5.32,819],[5.331,812],[5.341,804],[5.351,797],[5.362,804],[5.372,812],[5.382,797],[5.392,786],[5.403,826],[5.413,812],[5.423,804],[5.437,819],[5.451,815],[5.465,826],[5.478,812],[5.492,819],[5.506,826],[5.519,812],[5.533,826],[5.547,819],[5.56,826],[5.574,804],[5.588,826],[5.602,833],[5.615,826],[5.629,819],[5.643,833],[5.657,826],[5.67,819],[5.684,826],[5.698,848],[5.711,819],[5.725,826],[5.739,833],[5.753,826],[5.766,830],[5.78,833],[5.794,826],[5.807,841],[5.821,812],[5.835,826],[5.849,833],[5.862,826],[5.876,841],[5.89,833],[5.903,826],[5.917,841],[5.931,848],[5.945,833],[5.958,841],[5.972,833],[5.986,819],[6.007,830],[6.029,838],[6.058,834],[6.072,841],[6.079,818],[6.087,834],[6.101,838],[6.13,841],[6.159,845],[6.188,849],[6.198,864],[6.217,849],[6.246,845],[6.275,849],[6.303,853],[6.332,856],[6.361,860],[6.41,864],[6.416,834],[6.424,864],[6.447,872],[6.491,879],[6.534,887],[6.577,895],[6.621,906],[6.664,914],[6.707,921],[6.75,925],[6.794,921],[6.837,918],[6.88,906],[6.909,898],[6.938,891],[6.967,876],[6.989,861],[6.994,784],[7.0,765]];

var seriesNames = ["1","2","3","4","5","6","7","8","9","10","11","12","13","14","15","16"];
var seriesColors = ["#000000","#ff0000","#00ff00","#0000ff","#00ffff","#ff00ff","#ffff00","#000080",
                    "#000000","#000000","#000000","#000000","#000000","#000000","#000000","#000000"];
var seriesData = [s1,s2,s3,s4,s5,s6,s7,s8,s9,s10,s11,s12,s13,s14,s15,s16];

var xMajorTicks = [4.5, 5.0, 5.5, 6.0, 6.5, 7.0];
var xMinorTicks = [4.75, 5.25, 5.75, 6.25, 6.75];
var yMajorTicks = [0, 200, 400, 600, 800, 1000, 1200, 1400, 1600];
var yMinorTicks = [-100, 100, 300, 500, 700, 900, 1100, 1300, 1500];

// annotation arrows in data units: [fromX, fromY, tipX, tipY]
var arrowNotes = [[4.854, 946, 4.977, 689], [5.409, 489, 5.230, 713], [6.220, 778, 5.944, 1080], [6.844, 1702, 6.444, 1572]];

// ---- chart ----
var width = 1647, height = 985;
var svg = d3.select("#chart").append("svg")
  .attr("width", width)
  .attr("height", height);

var x = d3.scaleLinear().domain([4.5, 7.0]).range([228, 1443]);
var y = d3.scaleLinear().domain([-135, 1691]).range([872, 32]);

// slide decoration, top left
var grad = svg.append("defs").append("linearGradient").attr("id", "bar");
grad.append("stop").attr("offset", "0%").attr("stop-color", "#3333cc");
grad.append("stop").attr("offset", "45%").attr("stop-color", "#3333cc");
grad.append("stop").attr("offset", "100%").attr("stop-color", "#ffffff");
svg.append("rect").attr("x", 38).attr("y", 0).attr("width", 152).attr("height", 14).attr("fill", "url(#bar)");
svg.append("rect").attr("x", 84).attr("y", 0).attr("width", 7).attr("height", 24).attr("fill", "#222");

svg.select("defs").append("clipPath").attr("id", "plotclip")
  .append("rect").attr("x", 228).attr("y", 32).attr("width", 1443 - 228).attr("height", 872 - 32);

var line = d3.line()
  .x(function(d) { return x(d[0]); })
  .y(function(d) { return y(d[1]); });

svg.append("g").attr("clip-path", "url(#plotclip)")
  .selectAll("path")
  .data(seriesData)
  .enter().append("path")
  .attr("d", line)
  .attr("fill", "none")
  .attr("stroke", function(d, i) { return seriesColors[i]; })
  .attr("stroke-width", 1.4)
  .attr("stroke-linejoin", "round");

// axes
var tickFont = { "font-family": "'Liberation Sans', Arial, sans-serif", "font-size": "29px", "letter-spacing": "3px", "fill": "#000" };

var yAxis = svg.append("g")
  .attr("transform", "translate(228,0)")
  .call(d3.axisLeft(y).tickValues(yMajorTicks).tickSizeInner(20).tickSizeOuter(0).tickPadding(12).tickFormat(d3.format("d")));
svg.append("g")
  .attr("transform", "translate(228,0)")
  .call(d3.axisLeft(y).tickValues(yMinorTicks).tickSizeInner(11).tickSizeOuter(0).tickFormat(""))
  .select(".domain").remove();

var xAxis = svg.append("g")
  .attr("transform", "translate(0,872)")
  .call(d3.axisBottom(x).tickValues(xMajorTicks).tickSizeInner(17).tickSizeOuter(0).tickPadding(12).tickFormat(d3.format(".1f")));
svg.append("g")
  .attr("transform", "translate(0,872)")
  .call(d3.axisBottom(x).tickValues(xMinorTicks).tickSizeInner(9).tickSizeOuter(0).tickFormat(""))
  .select(".domain").remove();

svg.selectAll(".domain, .tick line").attr("stroke", "#000").attr("stroke-width", 3);
[yAxis, xAxis].forEach(function(g) {
  g.selectAll(".tick text").each(function() {
    var t = d3.select(this);
    Object.keys(tickFont).forEach(function(k) { t.style(k, tickFont[k]); });
  });
});
xAxis.selectAll(".tick text").attr("dx", "1.5px");

// axis titles
svg.append("text")
  .attr("x", 833).attr("y", 976)
  .attr("text-anchor", "middle")
  .style("font-family", "'Liberation Sans', Arial, sans-serif")
  .style("font-size", "35px")
  .text("B");
svg.append("text")
  .attr("transform", "translate(40,473) rotate(-90)")
  .attr("text-anchor", "middle")
  .style("font-family", "'Liberation Sans', Arial, sans-serif")
  .style("font-size", "35px")
  .text("B");

// legend
var legend = svg.append("g").attr("class", "legend");
seriesNames.forEach(function(name, i) {
  var ly = 167 + i * 38.6;
  legend.append("line")
    .attr("x1", 1513).attr("x2", 1597).attr("y1", ly).attr("y2", ly)
    .attr("stroke", seriesColors[i]).attr("stroke-width", 1.5);
  legend.append("text")
    .attr("x", 1607).attr("y", ly).attr("dy", "0.36em")
    .style("font-family", "'Liberation Sans', Arial, sans-serif")
    .style("font-size", "28px")
    .style("letter-spacing", "2px")
    .text(name);
});

// annotations
var red = "#cc0000";
var notes = svg.append("g")
  .style("font-family", "'Liberation Serif', 'Times New Roman', serif")
  .style("font-size", "37px")
  .attr("fill", red);

function note(tx, ty, anchor, parts) {
  var t = notes.append("text").attr("x", tx).attr("y", ty).attr("text-anchor", anchor);
  parts.forEach(function(p) {
    t.append("tspan").style("font-weight", p[1] ? "bold" : "normal").text(p[0]);
  });
}

note(347, 118, "middle", [["First", true]]);
note(347, 163, "middle", [["jump", true], ["-", false]]);
note(347, 208, "middle", [["incident", false]]);
note(347, 252, "middle", [["shock", false]]);
note(347, 296, "middle", [["waves of", false]]);
note(347, 340, "middle", [["nearly", false]]);
note(347, 385, "middle", [["same", false]]);
note(347, 436, "middle", [["intensity", false]]);

note(853, 620, "middle", [["Second jump", true], ["-transmitted shock waves", false]]);
note(854, 671, "middle", [["with decreasing intensity", false]]);

note(1110, 480, "middle", [["Nearly constant velocity of free surface with a weak", false]]);
note(1110, 525, "middle", [["slope right behind front (low fracture strength?)", false]]);

note(1373, 38, "start", [["Surface break-up", false]]);

note(1337, 786, "middle", [["Influence from detonation", false]]);
note(1337, 838, "middle", [["products comes much later", false]]);

// blue arrows
var arrows = svg.append("g");
arrowNotes.forEach(function(a) {
  var x1 = x(a[0]), y1 = y(a[1]), x2 = x(a[2]), y2 = y(a[3]);
  var dx = x2 - x1, dy = y2 - y1, len = Math.sqrt(dx * dx + dy * dy);
  var ux = dx / len, uy = dy / len, px = -uy, py = ux;
  var headLen = 26, headW = 11, notch = 7;
  arrows.append("line")
    .attr("x1", x1).attr("y1", y1)
    .attr("x2", x2 - ux * (headLen - notch)).attr("y2", y2 - uy * (headLen - notch))
    .attr("stroke", "#0000ff").attr("stroke-width", 5);
  var pts = [
    [x2, y2],
    [x2 - ux * headLen + px * headW, y2 - uy * headLen + py * headW],
    [x2 - ux * (headLen - notch), y2 - uy * (headLen - notch)],
    [x2 - ux * headLen - px * headW, y2 - uy * headLen - py * headW]
  ];
  arrows.append("polygon")
    .attr("points", pts.map(function(p) { return p.join(","); }).join(" "))
    .attr("fill", "#0000ff");
});
</script>
</body>
</html>
